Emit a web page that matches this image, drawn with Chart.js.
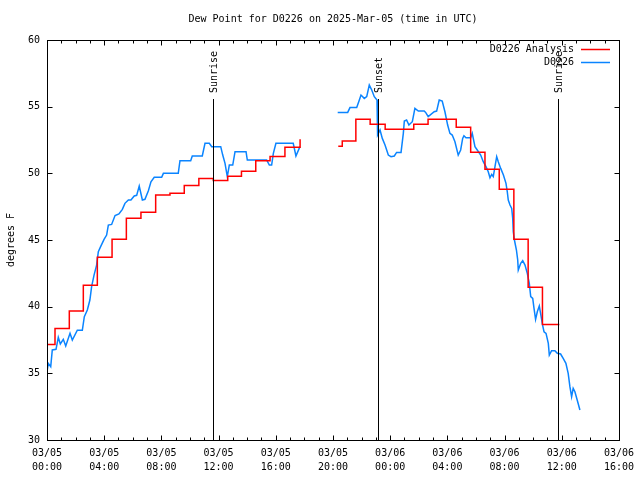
<!DOCTYPE html>
<html>
<head>
<meta charset="utf-8">
<style>
  html, body { margin: 0; padding: 0; background: #fff; }
  canvas { display: block; }
</style>
</head>
<body>
<div>
  <canvas id="myChart" width="640" height="480"></canvas>
</div>

<script src="https://cdn.jsdelivr.net/npm/chart.js"></script>

<script>
const ctx = document.getElementById('myChart');

// hours since 03/05 00:00 UTC
const obsHours = [
  0, 0.09, 0.26, 0.37, 0.63, 0.79, 0.93, 1.14, 1.31, 1.61, 1.77, 2.12, 2.47, 2.61, 2.82, 3.0,
  3.12, 3.29, 3.47, 3.59, 3.75, 3.99, 4.17, 4.29, 4.52, 4.76, 5.03, 5.27, 5.45, 5.69, 5.87,
  6.1, 6.27, 6.45, 6.67, 6.85, 7.09, 7.27, 7.5, 8.02, 8.14, 9.18, 9.3, 10.05, 10.16, 10.86,
  11.05, 11.35, 11.52, 12.15, 12.29, 12.45, 12.61, 12.75, 12.99, 13.15, 13.92, 14.01, 15.36,
  15.55, 15.71, 15.83, 16.01, 17.22, 17.41, 17.69,
  19.0,
  20.33, 21.03, 21.19, 21.66, 21.82, 21.96, 22.19, 22.36, 22.54, 22.71, 22.89, 23.08, 23.12,
  23.29, 23.45, 23.64, 23.87, 24.06, 24.29, 24.45, 24.76, 24.92, 24.99, 25.15, 25.31, 25.55,
  25.73, 25.97, 26.38, 26.48, 26.66, 27.08, 27.25, 27.43, 27.64, 27.83, 28.02, 28.18, 28.34,
  28.53, 28.76, 28.93, 29.07, 29.16, 29.3, 29.63, 29.74, 29.93, 30.09, 30.33, 30.51, 30.7,
  30.86, 30.98, 31.1, 31.21, 31.33, 31.45, 31.56, 31.73, 31.92, 32.1, 32.19, 32.26, 32.38,
  32.5, 32.57, 32.61, 32.69, 32.83, 32.92, 32.96, 33.13, 33.27, 33.43, 33.59, 33.73, 33.83,
  33.97, 34.06, 34.17, 34.29, 34.43, 34.52, 34.66, 34.76, 34.9, 35.06, 35.13, 35.29, 35.52,
  35.69, 35.92, 36.1, 36.29, 36.45, 36.57, 36.69, 36.8, 36.92, 37.08, 37.27
];
const obsValues = [
  35.12, 35.75, 35.5, 36.75, 36.8, 37.7, 37.2, 37.55, 37.05, 38.0, 37.5, 38.23, 38.23, 39.25, 39.75, 40.5,
  41.5, 42.37, 43.12, 44.13, 44.5, 45.05, 45.37, 46.12, 46.17, 46.83, 46.95, 47.3, 47.75, 48.0, 48.0,
  48.3, 48.35, 49.05, 48.0, 48.05, 48.7, 49.37, 49.7, 49.7, 50.0, 50.0, 50.95, 50.95, 51.3, 51.3,
  52.25, 52.25, 52.0, 52.0, 51.37, 50.75, 49.75, 50.62, 50.62, 51.62, 51.62, 51.0, 51.0,
  50.62, 50.62, 51.5, 52.25, 52.25, 51.3, 52.0,
  null,
  54.57, 54.57, 54.93, 54.93, 55.42, 55.87, 55.62, 55.75, 56.62, 56.25, 55.75, 55.5, 52.87,
  53.25, 52.62, 52.12, 51.37, 51.25, 51.3, 51.57, 51.57, 53.0, 53.92, 54.0, 53.62, 53.87,
  54.87, 54.67, 54.67, 54.57, 54.25, 54.62, 54.67, 55.5, 55.42, 54.62, 53.62, 53.0, 52.87,
  52.37, 51.37, 51.75, 52.62, 52.82, 52.67, 52.67, 53.0, 52.0, 51.75, 51.37, 50.87, 50.5,
  50.12, 49.67, 49.92, 49.75, 50.5, 51.25, 50.87, 50.37, 49.87, 49.25, 48.62, 48.0, 47.62,
  47.37, 46.62, 45.62, 45.0, 44.25, 43.5, 42.75, 43.25, 43.45, 43.12, 42.5, 41.75, 40.75,
  40.62, 39.87, 39.05, 39.62, 40.05, 39.5, 38.62, 38.12, 38.0, 37.25, 36.37, 36.7, 36.7,
  36.5, 36.45, 36.12, 35.75, 35.0, 34.0, 33.25, 33.87, 33.62, 33.0, 32.25
];

const anaHours = [
  0, 0.56, 1.56, 2.54, 3.52, 4.55, 5.55, 6.57, 7.6, 8.6, 9.6, 10.62, 11.63, 12.64, 13.6,
  14.6, 15.6, 16.64, 17.7,
  19.0,
  20.37, 20.65, 21.6, 22.6, 23.65, 25.65, 26.65, 28.62, 29.63, 30.63, 31.63, 32.65, 33.65,
  34.65, 35.83
];
const anaValues = [
  37.17, 38.37, 39.67, 41.6, 43.7, 45.05, 46.63, 47.08, 48.37, 48.5, 49.08, 49.62, 49.47, 49.78, 50.15,
  50.95, 51.27, 51.95, 52.55,
  null,
  52.03, 52.43, 54.05, 53.68, 53.3, 53.68, 54.05, 53.45, 51.58, 50.3, 48.8, 45.05, 41.45,
  38.67, 38.67
];

const sunHours = [11.63, 23.12, 35.76];
const sunLabels = ['Sunrise', 'Sunset', 'Sunrise'];

const yTicks = [30, 35, 40, 45, 50, 55, 60];
const dayLabels = ['03/05', '03/06'];

const FONT = '10px "DejaVu Sans Mono", monospace';

const toPoints = (xs, ys) => xs.map((h, i) => ({ x: h, y: ys[i] }));

const framePlugin = {
  id: 'frame',
  afterDatasetsDraw(chart) {
    const c = chart.ctx;
    const a = chart.chartArea;
    const xs = chart.scales.x;
    const ys = chart.scales.y;
    c.save();
    c.strokeStyle = '#000';
    c.lineWidth = 1;
    c.fillStyle = '#000';
    c.font = FONT;

    // sunrise / sunset markers
    sunHours.forEach((h, i) => {
      const px = Math.round(xs.getPixelForValue(h)) + 0.5;
      c.beginPath();
      c.moveTo(px, 99);
      c.lineTo(px, a.bottom);
      c.stroke();
      c.save();
      c.translate(px + 1, 93);
      c.rotate(-Math.PI / 2);
      c.textAlign = 'left';
      c.textBaseline = 'middle';
      c.fillText(sunLabels[i], 0, 0);
      c.restore();
    });

    // border
    const L = Math.round(a.left) + 0.5, R = Math.round(a.right) + 0.5;
    const T = Math.round(a.top) + 0.5, B = Math.round(a.bottom) + 0.5;
    c.strokeRect(L, T, R - L, B - T);

    // tick marks, inward
    c.beginPath();
    yTicks.forEach(v => {
      const py = Math.round(ys.getPixelForValue(v)) + 0.5;
      c.moveTo(L, py); c.lineTo(L + 5, py);
      c.moveTo(R, py); c.lineTo(R - 5, py);
    });
    for (let h = 0; h <= 40; h++) {
      const px = Math.round(xs.getPixelForValue(h)) + 0.5;
      const len = h % 4 === 0 ? 5 : 3;
      c.moveTo(px, B); c.lineTo(px, B - len);
      c.moveTo(px, T); c.lineTo(px, T + len);
    }
    c.stroke();

    // title
    c.textAlign = 'center';
    c.textBaseline = 'middle';
    c.fillText('Dew Point for D0226 on 2025-Mar-05 (time in UTC)', (a.left + a.right) / 2, 19);

    // y axis title
    c.save();
    c.translate(11, (a.top + a.bottom) / 2);
    c.rotate(-Math.PI / 2);
    c.fillText('degrees F', 0, 0);
    c.restore();

    // legend
    c.textAlign = 'right';
    chart.data.datasets.forEach((ds, i) => {
      const ly = 49 + i * 13;
      c.fillStyle = '#000';
      c.fillText(ds.label, 574, ly);
      c.strokeStyle = ds.borderColor;
      c.lineWidth = 1.5;
      c.beginPath();
      c.moveTo(581, ly + 0.5);
      c.lineTo(610, ly + 0.5);
      c.stroke();
    });
    c.restore();
  }
};

new Chart(ctx, {
  type: 'line',
  data: {
    datasets: [
      {
        label: 'D0226 Analysis',
        data: toPoints(anaHours, anaValues),
        borderColor: '#ff0000',
        borderWidth: 1.5,
        stepped: 'before',
        pointRadius: 0,
        spanGaps: false
      },
      {
        label: 'D0226',
        data: toPoints(obsHours, obsValues),
        borderColor: '#0a84ff',
        borderWidth: 1.5,
        pointRadius: 0,
        tension: 0,
        spanGaps: false
      }
    ]
  },
  options: {
    responsive: false,
    animation: false,
    layout: { padding: { top: 40, right: 21, left: 0, bottom: 0 } },
    plugins: {
      legend: { display: false },
      title: { display: false },
      tooltip: { enabled: false }
    },
    scales: {
      x: {
        type: 'linear',
        min: 0,
        max: 40,
        afterFit: s => { s.height = 40; },
        grid: { display: false, drawTicks: false },
        border: { display: false },
        ticks: {
          stepSize: 4,
          autoSkip: false,
          maxRotation: 0,
          padding: 6,
          color: '#000',
          font: { family: '"DejaVu Sans Mono", monospace', size: 10, lineHeight: 1.4 },
          callback: v => {
            const day = dayLabels[Math.floor(v / 24)];
            const hh = String(v % 24).padStart(2, '0');
            return [day, hh + ':00'];
          }
        }
      },
      y: {
        min: 30,
        max: 60,
        afterFit: s => { s.width = 47; },
        grid: { display: false, drawTicks: false },
        border: { display: false },
        ticks: {
          stepSize: 5,
          padding: 7,
          color: '#000',
          font: { family: '"DejaVu Sans Mono", monospace', size: 10 }
        }
      }
    }
  },
  plugins: [framePlugin]
});
</script>
</body>
</html>
